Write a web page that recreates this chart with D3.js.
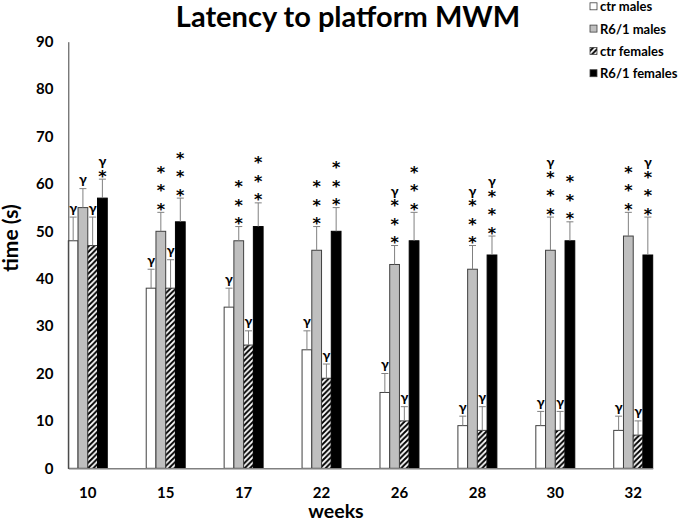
<!DOCTYPE html>
<html>
<head>
<meta charset="utf-8">
<script src="https://cdn.jsdelivr.net/npm/d3@7"></script>
<style>
  body { margin: 0; background: #fff; }
  svg { display: block; }
  text { font-family: Lato, "Open Sans", sans-serif; font-weight: bold; fill: #000; }
  text.star { font-family: "DejaVu Sans", sans-serif; }
</style>
</head>
<body>
<div id="app"></div>
<script>
// data
const weeks = ["10", "15", "17", "22", "26", "28", "30", "32"];
const yTicks = [0, 10, 20, 30, 40, 50, 60, 70, 80, 90];

const ctrMales = [48, 38, 34, 25, 16, 9, 9, 8];
const ctrMalesErr = [5, 4, 4, 4, 4, 2, 3, 3];
const ctrMalesMarks = ["γ", "γ", "γ", "γ", "γ", "γ", "γ", "γ"];

const r6Males = [55, 50, 48, 46, 43, 42, 46, 49];
const r6MalesErr = [4, 4, 3, 5, 4, 5, 7, 5];
const r6MalesMarks = ["γ", "***", "***", "***", "γ***", "γ***", "γ***", "***"];

const ctrFemales = [47, 38, 26, 19, 10, 8, 8, 7];
const ctrFemalesErr = [6, 6, 3, 3, 3, 5, 4, 3];
const ctrFemalesMarks = ["γ", "γ", "γ", "γ", "γ", "γ", "γ", "γ"];

const r6Females = [57, 52, 51, 50, 48, 45, 48, 45];
const r6FemalesErr = [4, 5, 5, 5, 6, 4, 4, 8];
const r6FemalesMarks = ["γ*", "***", "***", "***", "***", "γ***", "***", "γ***"];

const series = [
  { key: "ctrM", label: "ctr males", values: ctrMales, errs: ctrMalesErr, marks: ctrMalesMarks, fill: "#fff" },
  { key: "r6M", label: "R6/1 males", values: r6Males, errs: r6MalesErr, marks: r6MalesMarks, fill: "#bfbfbf" },
  { key: "ctrF", label: "ctr females", values: ctrFemales, errs: ctrFemalesErr, marks: ctrFemalesMarks, fill: "url(#hatch)" },
  { key: "r6F", label: "R6/1 females", values: r6Females, errs: r6FemalesErr, marks: r6FemalesMarks, fill: "#000" }
];

const w = 679, h = 522;
const svg = d3.select("#app").append("svg").attr("width", w).attr("height", h);

// hatch pattern
const pat = svg.append("defs").append("pattern")
  .attr("id", "hatch")
  .attr("patternUnits", "userSpaceOnUse")
  .attr("width", 5.4).attr("height", 5.4);
pat.append("rect").attr("width", 5.4).attr("height", 5.4).attr("fill", "#fff");
pat.append("path")
  .attr("d", "M0,5.4L5.4,0M-1.35,1.35L1.35,-1.35M4.05,6.75L6.75,4.05")
  .attr("stroke", "#000").attr("stroke-width", 2);

//scales
const x = d3.scaleBand().domain(weeks).range([68.3, 652.7]).paddingInner(0.5).paddingOuter(0);
const xs = d3.scaleBand().domain(series.map((s) => s.key)).range([0, x.bandwidth()]);
const y = d3.scaleLinear().domain([0, 90]).range([468.3, 41.7]);

//title
svg.append("text")
  .attr("x", 348).attr("y", 27)
  .attr("text-anchor", "middle")
  .style("font-size", "29px")
  .text("Latency to platform MWM");

//bars
series.forEach((s) => {
  const g = svg.append("g").attr("class", "series-" + s.key);
  g.selectAll("rect")
    .data(s.values)
    .join("rect")
    .attr("x", (d, i) => x(weeks[i]) + xs(s.key))
    .attr("y", (d) => y(d))
    .attr("width", xs.bandwidth())
    .attr("height", (d) => y(0) - y(d))
    .attr("fill", s.fill)
    .attr("stroke", s.key === "r6F" ? "#000" : "#404040")
    .attr("stroke-width", 1);

  //error bars (upper only)
  const cx = (i) => x(weeks[i]) + xs(s.key) + xs.bandwidth() / 2;
  const eg = g.append("g").attr("stroke", "#808080").attr("stroke-width", 1);
  eg.selectAll("line.stem")
    .data(s.values)
    .join("line")
    .attr("class", "stem")
    .attr("x1", (d, i) => cx(i)).attr("x2", (d, i) => cx(i))
    .attr("y1", (d) => y(d))
    .attr("y2", (d, i) => y(d + s.errs[i]));
  eg.selectAll("line.cap")
    .data(s.values)
    .join("line")
    .attr("class", "cap")
    .attr("x1", (d, i) => cx(i) - 3.5).attr("x2", (d, i) => cx(i) + 3.5)
    .attr("y1", (d, i) => y(d + s.errs[i]))
    .attr("y2", (d, i) => y(d + s.errs[i]));

  //significance marks
  s.marks.forEach((m, i) => {
    const capY = y(s.values[i] + s.errs[i]);
    const nStars = (m.match(/\*/g) || []).length;
    let top = capY;
    for (let k = 0; k < nStars; k++) {
      const cy = capY - 6 - k * 18.5;
      g.append("text")
        .attr("class", "star")
        .attr("x", cx(i)).attr("y", cy + 8.5)
        .attr("text-anchor", "middle")
        .style("font-size", "16px")
        .text("*");
      top = cy;
    }
    if (m.includes("γ")) {
      const gy = nStars ? top - 12.5 : capY - 10;
      g.append("text")
        .attr("x", cx(i)).attr("y", gy)
        .attr("text-anchor", "middle")
        .attr("dominant-baseline", "central")
        .style("font-size", "14px")
        .text("γ");
    }
  });
});

//axes
const xAxis = svg.append("g")
  .attr("transform", `translate(0,${y(0)})`)
  .call(d3.axisBottom(x).tickSize(0).tickSizeOuter(0).tickPadding(19.5));
xAxis.select(".domain").attr("stroke", "#808080").attr("stroke-width", 1.6);
xAxis.selectAll("text").style("font-size", "15px").style("font-family", null);

const yAxis = svg.append("g")
  .attr("transform", "translate(68.3,0)")
  .call(d3.axisLeft(y).tickValues(yTicks).tickSize(0).tickSizeOuter(0).tickPadding(14.8));
yAxis.select(".domain").attr("stroke", "#404040").attr("stroke-width", 1);
yAxis.selectAll("text").style("font-size", "15px").style("font-family", null);

//axis titles
svg.append("text")
  .attr("x", 336).attr("y", 518)
  .attr("text-anchor", "middle")
  .style("font-size", "19.5px")
  .text("weeks");

svg.append("text")
  .attr("transform", "translate(18,238) rotate(-90)")
  .attr("text-anchor", "middle")
  .style("font-size", "21px")
  .text("time (s)");

//legend
const legend = svg.append("g").attr("transform", "translate(590,0)");
series.forEach((s, i) => {
  const row = legend.append("g").attr("transform", `translate(0,${6.3 + i * 22.3})`);
  row.append("rect")
    .attr("x", 0).attr("y", -3.5)
    .attr("width", 7).attr("height", 7)
    .attr("fill", s.fill)
    .attr("stroke", "#404040").attr("stroke-width", 0.8);
  row.append("text")
    .attr("x", 10).attr("y", 0)
    .attr("dominant-baseline", "central")
    .style("font-size", "13px")
    .text(s.label);
});
</script>
</body>
</html>
